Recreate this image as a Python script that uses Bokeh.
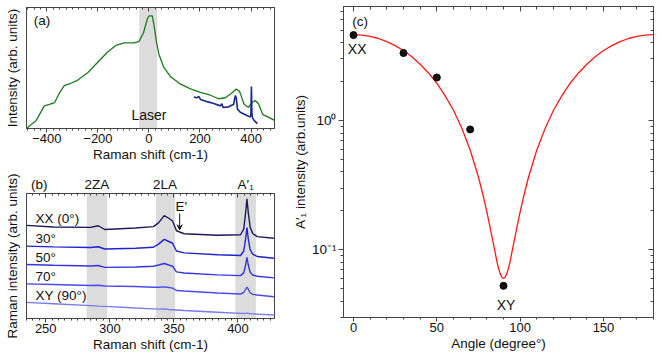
from bokeh.plotting import figure
from bokeh.layouts import row, column
from bokeh.models import (Range1d, LinearAxis, LogAxis, SingleIntervalTicker, FixedTicker,
                          Label, BoxAnnotation, Arrow, VeeHead)
from bokeh.embed import file_html
from bokeh.resources import INLINE

FONT = "Liberation Sans"
AX = "#444444"

# ---------------- data: panel (a) ----------------
green_x = [-478, -442, -410, -390, -370, -351, -332, -312, -279, -240, -201, -162, -130, -97, -58,
           -39, -22, -6, 0, 13, 20, 30, 39, 58, 85, 124, 163, 202, 241, 273, 299, 325, 342, 355,
           373, 390, 403, 416, 429, 446, 468, 492]
green_y = [0.5, 6.7, 18.7, 20, 21.3, 29.3, 35.5, 36.8, 40, 46.1, 54.7, 63.2, 68.6, 70.7, 70.7,
           72, 78.7, 90.7, 93, 93, 85, 70.7, 61.4, 50.7, 42.7, 36.6, 32.8, 29.9, 27.5, 24.6, 25.4,
           29.4, 32.6, 30.7, 20, 17.4, 21.4, 23.2, 20.6, 11.5, 9.4, 6.7]
blue_x = [176, 189, 195, 202, 228, 254, 280, 286, 290, 312, 332, 336, 339, 342, 347, 358, 384,
          397, 399.5, 401.5, 403.5, 406, 412, 425]
blue_y = [25.9, 25.4, 26.5, 24, 22.2, 20.6, 18.7, 20.5, 17.4, 17.9, 20, 25, 27.2, 25.4, 16, 13.4,
          10.7, 9.4, 12, 34.7, 12, 8.8, 6.7, 4]
laser_band = [-38, 32]
a_major = [-400, -200, 0, 200, 400]
a_minor = [v for v in range(-475, 476, 25) if v not in a_major]

# ---------------- data: panel (b) ----------------
shift_b = [235, 256, 285, 291, 296, 320, 334, 338, 342.5, 346, 349, 352, 358, 384, 402, 404.5,
           406, 407, 408, 409.5, 411.5, 415, 428]
spec_xx = [74.5, 73.2, 72.9, 74.2, 71.2, 72.4, 73.5, 76.5, 82.3, 80.2, 78.0, 70.2, 67.8, 66.6,
           67.0, 71.5, 85, 95.8, 85, 73, 68, 65.5, 64.2]
spec_30 = [57.9, 57.3, 56.8, 57.4, 55.6, 56.2, 57.0, 59.5, 63.3, 61.6, 60.2, 54.0, 52.5, 51.0,
           50.4, 54.0, 64, 72.7, 64, 55, 51.5, 49.6, 48.2]
spec_50 = [43.2, 42.6, 42.0, 42.4, 40.9, 41.2, 41.8, 42.8, 44.0, 42.8, 41.8, 37.3, 36.4, 34.9,
           34.3, 36.5, 43, 49.0, 43, 37, 34.8, 33.8, 32.5]
spec_70 = [27.7, 27.2, 26.4, 26.6, 26.0, 25.6, 25.0, 25.0, 25.3, 24.8, 24.3, 22.4, 22.0, 20.4,
           19.6, 20.8, 23.5, 25.2, 23.5, 20.6, 19.3, 18.8, 17.4]
spec_xy = [12.9, 11.8, 10.3, 9.9, 9.7, 8.4, 7.7, 7.5, 7.6, 7.2, 7.0, 6.8, 6.4, 5.0, 4.1, 4.0,
           4.1, 4.3, 4.1, 3.8, 3.7, 3.5, 2.8]
spectra = [spec_xx, spec_30, spec_50, spec_70, spec_xy]
spec_names = ["XX (0°)", "30°", "50°", "70°", "XY (90°)"]
spec_label_y = [79.9, 64.3, 49.0, 33.5, 18.2]
spec_colors = ["#1a1a5c", "#1e22d2", "#3434e4", "#4a4aef", "#7a7af4"]
bands_b = [(282, 298), (336, 351), (398, 414)]
band_names = {245: "(b)", 290: "2ZA", 343: "2LA", 406: "A′₁"}
b_major = [250, 300, 350, 400]
b_minor = [v for v in range(240, 430, 5) if v not in b_major]

# ---------------- data: panel (c) ----------------
angle_pts = [0, 30, 50, 70, 90]
a1_pts = [4.57, 3.32, 2.15, 0.852, 0.0527]
fit_ang = [0, 5, 10, 15, 20, 25, 30, 35, 40, 45, 50, 55, 60, 65, 70, 75, 78, 80, 82, 84, 86, 87,
           88, 89, 90, 91, 92, 93, 94, 96, 98, 100, 102, 105, 110, 115, 120, 125, 130, 135, 140,
           145, 150, 155, 160, 165, 170, 175, 180]
fit_val = [4.60, 4.565, 4.46, 4.30, 4.07, 3.79, 3.47, 3.11, 2.72, 2.33, 1.94, 1.55, 1.20, 0.871,
           0.591, 0.364, 0.256, 0.197, 0.148, 0.110, 0.082, 0.072, 0.0655, 0.0614, 0.060, 0.0614,
           0.0655, 0.072, 0.082, 0.110, 0.148, 0.197, 0.256, 0.364, 0.591, 0.871, 1.20, 1.55,
           1.94, 2.33, 2.72, 3.11, 3.47, 3.79, 4.07, 4.30, 4.46, 4.565, 4.60]
c_major = [0, 50, 100, 150]
c_minor = [v for v in range(10, 180, 10) if v not in c_major]
log_major = [0.1, 1]
log_minor = [0.03, 0.04, 0.05, 0.06, 0.07, 0.08, 0.09, 0.2, 0.3, 0.4, 0.5, 0.6, 0.7, 0.8, 0.9,
             2, 3, 4, 5, 6, 7]
log_labels = {0.1: "10⁻¹", 1: "10⁰"}


def ax_style(ax, tick_in=0, tick_out=4, minor_in=0, minor_out=2):
    ax.axis_line_color = AX
    ax.major_tick_line_color = AX
    ax.minor_tick_line_color = AX
    ax.major_tick_in = tick_in
    ax.major_tick_out = tick_out
    ax.minor_tick_in = minor_in
    ax.minor_tick_out = minor_out
    ax.major_label_text_font = FONT
    ax.major_label_text_font_size = "13px"
    ax.major_label_text_color = "#111111"
    ax.major_label_standoff = 1
    ax.axis_label_text_font = FONT
    ax.axis_label_text_font_size = "13.5px"
    ax.axis_label_text_font_style = "normal"
    ax.axis_label_text_color = "#111111"
    ax.axis_label_standoff = 1


def inner_ticks(p, side, positions, length, log=False):
    # label-free axis: positions given as minor ticks only, pointing into the frame
    t = FixedTicker(ticks=[], minor_ticks=positions)
    ax = (LogAxis if log else LinearAxis)(ticker=t)
    ax_style(ax, tick_in=0, tick_out=0, minor_in=length, minor_out=0)
    ax.major_label_standoff = 0
    p.add_layout(ax, side)


def hide_y(ax, label):
    ax.ticker = FixedTicker(ticks=[])
    ax_style(ax, tick_out=0, minor_out=0)
    ax.major_label_standoff = 0
    ax.axis_label_standoff = 7
    ax.axis_label = label


def txt(p, x, y, s, align="left", base="middle", size="13.5px"):
    p.add_layout(Label(x=x, y=y, text=s, text_font=FONT, text_font_size=size,
                       text_align=align, text_baseline=base, text_color="#111111"))


def base_fig(**kw):
    p = figure(output_backend="svg", toolbar_location=None, **kw)
    p.grid.visible = False
    p.outline_line_color = AX
    p.outline_line_width = 1
    p.background_fill_color = "white"
    p.border_fill_color = "white"
    return p


# ---------------- panel (a) ----------------
pa = base_fig(width=288, height=164, x_range=Range1d(-480, 492), y_range=Range1d(0, 100),
              min_border_left=26, min_border_right=14, min_border_top=7, min_border_bottom=32)
pa.add_layout(BoxAnnotation(left=laser_band[0], right=laser_band[1], fill_color="#dcdcdc",
                            fill_alpha=1, line_color=None, level="underlay"))
pa.xaxis.ticker = SingleIntervalTicker(interval=200, num_minor_ticks=8)
ax_style(pa.xaxis[0])
pa.xaxis.axis_label = "Raman shift (cm-1)"
inner_ticks(pa, "above", a_major, 4)
inner_ticks(pa, "above", a_minor, 2)
hide_y(pa.yaxis[0], "Intensity (arb. units)")
pa.line(green_x, green_y, line_color="#1f7a1f", line_width=1.3)
pa.line(blue_x, blue_y, line_color="#1a2a8c", line_width=1.6)
txt(pa, -452, 89, "(a)")
txt(pa, 0, 11, "Laser", align="center", size="14px")

# ---------------- panel (b) ----------------
pb = base_fig(width=288, height=194, x_range=Range1d(235, 428.5), y_range=Range1d(0, 100),
              min_border_left=26, min_border_right=14, min_border_top=29, min_border_bottom=40)
for lo, hi in bands_b:
    pb.add_layout(BoxAnnotation(left=lo, right=hi, fill_color="#dcdcdc", fill_alpha=1,
                                line_color=None, level="underlay"))
pb.xaxis.ticker = SingleIntervalTicker(interval=50, num_minor_ticks=10)
ax_style(pb.xaxis[0])
pb.xaxis.axis_label = "Raman shift (cm-1)"
inner_ticks(pb, "above", b_major, 4)
inner_ticks(pb, "above", b_minor, 2)
lab_b = LinearAxis(ticker=FixedTicker(ticks=list(band_names.keys())),
                   major_label_overrides=band_names)
ax_style(lab_b, tick_out=0, minor_out=0)
lab_b.axis_line_color = None
lab_b.major_label_text_font_size = "13.5px"
lab_b.major_label_standoff = 2
pb.add_layout(lab_b, "above")
hide_y(pb.yaxis[0], "Raman intensity (arb. units)")
for ys, col in zip(spectra, spec_colors):
    pb.line(shift_b, ys, line_color=col, line_width=1.4)
for name, ly in zip(spec_names, spec_label_y):
    txt(pb, 242, ly, name)
txt(pb, 355.8, 90, "E'", align="center")
pb.add_layout(Arrow(end=VeeHead(size=5, fill_color="#111111", line_color="#111111"),
                    x_start=354.5, y_start=84, x_end=354.5, y_end=71,
                    line_color="#111111", line_width=1))

# ---------------- panel (c) ----------------
pc = base_fig(width=372, height=358, x_range=Range1d(-6, 180), y_range=Range1d(0.030, 7.6),
              y_axis_type="log", min_border_left=55, min_border_right=7, min_border_top=6,
              min_border_bottom=41)
pc.xaxis.ticker = SingleIntervalTicker(interval=50, num_minor_ticks=5)
ax_style(pc.xaxis[0])
pc.xaxis.axis_label = "Angle (degree°)"
inner_ticks(pc, "above", c_major, 5)
inner_ticks(pc, "above", c_minor, 3)
pc.yaxis.ticker = FixedTicker(ticks=log_major, minor_ticks=log_minor)
ax_style(pc.yaxis[0], tick_out=5, minor_out=3)
pc.yaxis.major_label_overrides = log_labels
pc.yaxis.major_label_text_font_size = "13.5px"
pc.yaxis.major_label_standoff = 2
pc.yaxis.axis_label = "A′₁ intensity (arb.units)"
inner_ticks(pc, "right", log_major, 5, log=True)
inner_ticks(pc, "right", log_minor, 3, log=True)
pc.line(fit_ang, fit_val, line_color="#ff1a1a", line_width=1.3)
pc.scatter(angle_pts, a1_pts, size=7, fill_color="#111111", line_color="#000000")
txt(pc, 4, 5.83, "(c)", align="center")
txt(pc, 2.2, 3.57, "XX", align="center", size="14px")
txt(pc, 91.5, 0.0378, "XY", align="center", size="14px")

layout = row(column(pa, pb), pc)
open("out.html", "w").write(file_html(layout, INLINE))
